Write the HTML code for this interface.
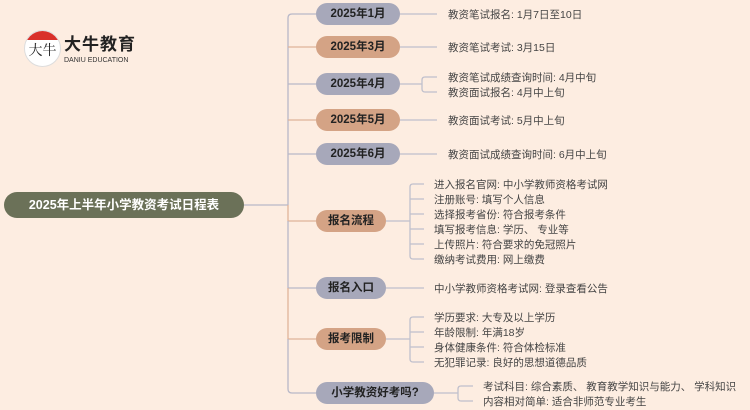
<!DOCTYPE html>
<html><head><meta charset="utf-8"><style>
body{margin:0;width:750px;height:410px;background:#fdede1;position:relative;overflow:hidden;font-family:"Liberation Sans","Noto Sans CJK SC",sans-serif}
.p{position:absolute;height:22px;line-height:22px;border-radius:11px;text-align:center;font-weight:bold;font-size:11.5px;color:#222}
.g{background:#a7a8ba}.t{background:#d4a385}
.l{position:absolute;font-size:10.5px;color:#444;line-height:12px;white-space:nowrap}
svg{position:absolute;left:0;top:0}
</style></head><body>
<svg width="750" height="410" fill="none" stroke-width="1.3">
<path d="M244 205H288" stroke="#b8b8c8"/>
<path d="M316 14H292Q288 14 288 18V205" stroke="#b8b8c8"/>
<path d="M288 47H316" stroke="#e0b49a"/>
<path d="M288 84H316" stroke="#b8b8c8"/>
<path d="M288 120H316" stroke="#e0b49a"/>
<path d="M288 154H316" stroke="#b8b8c8"/>
<path d="M288 205V221H316" stroke="#e0b49a"/>
<path d="M288 221V288H316" stroke="#b8b8c8"/>
<path d="M288 288V339H316" stroke="#e0b49a"/>
<path d="M288 339V389Q288 393 292 393H316" stroke="#b8b8c8"/>
<g stroke="#c0c0cc">
<path d="M400 14H437M400 47H437M400 120H437M400 154H437"/>
<path d="M400 84H422M437 77H425Q422 77 422 80V89Q422 92 425 92H437"/>
<path d="M386 221H410M424 184H413Q410 184 410 187V256Q410 259 413 259H424M410 199H424M410 214H424M410 229H424M410 244H424"/>
<path d="M386 288H424"/>
<path d="M386 339H410M424 317H413Q410 317 410 320V359Q410 362 413 362H424M410 332H424M410 347H424"/>
<path d="M434 393H458M473 386H461Q458 386 458 389V398Q458 401 461 401H473"/>
</g>
</svg>
<div style="position:absolute;left:24px;top:30px;width:35px;height:35px;border-radius:50%;background:#fff;border:1px solid #ddd;overflow:hidden"><div style="height:9px;background:#d9302a"></div><div style="font-size:14px;color:#222;text-align:center;line-height:20px;font-family:'Noto Serif CJK SC',serif">大牛</div></div>
<div style="position:absolute;left:64px;top:35px;font-size:17px;line-height:20px;font-weight:bold;color:#222;letter-spacing:1px">大牛教育</div>
<div style="position:absolute;left:64px;top:57px;font-size:7px;line-height:8px;color:#333">DANIU EDUCATION</div>
<div class="p" style="left:4px;top:192px;width:240px;height:26px;line-height:26px;border-radius:13px;background:#6b7158;color:#fff;font-size:12.5px">2025年上半年小学教资考试日程表</div>
<div class="p g" style="left:316px;top:3px;width:84px">2025年1月</div>
<div class="p t" style="left:316px;top:36px;width:84px">2025年3月</div>
<div class="p g" style="left:316px;top:73px;width:84px">2025年4月</div>
<div class="p t" style="left:316px;top:109px;width:84px">2025年5月</div>
<div class="p g" style="left:316px;top:143px;width:84px">2025年6月</div>
<div class="p t" style="left:316px;top:210px;width:70px">报名流程</div>
<div class="p g" style="left:316px;top:277px;width:70px">报名入口</div>
<div class="p t" style="left:316px;top:328px;width:70px">报考限制</div>
<div class="p g" style="left:316px;top:382px;width:118px">小学教资好考吗?</div>
<div class="l" style="left:448px;top:9px">教资笔试报名: 1月7日至10日</div>
<div class="l" style="left:448px;top:42px">教资笔试考试: 3月15日</div>
<div class="l" style="left:448px;top:72px">教资笔试成绩查询时间: 4月中旬</div>
<div class="l" style="left:448px;top:87px">教资面试报名: 4月中上旬</div>
<div class="l" style="left:448px;top:115px">教资面试考试: 5月中上旬</div>
<div class="l" style="left:448px;top:149px">教资面试成绩查询时间: 6月中上旬</div>
<div class="l" style="left:434px;top:179px">进入报名官网: 中小学教师资格考试网</div>
<div class="l" style="left:434px;top:194px">注册账号: 填写个人信息</div>
<div class="l" style="left:434px;top:209px">选择报考省份: 符合报考条件</div>
<div class="l" style="left:434px;top:224px">填写报考信息: 学历、 专业等</div>
<div class="l" style="left:434px;top:239px">上传照片: 符合要求的免冠照片</div>
<div class="l" style="left:434px;top:254px">缴纳考试费用: 网上缴费</div>
<div class="l" style="left:434px;top:283px">中小学教师资格考试网: 登录查看公告</div>
<div class="l" style="left:434px;top:312px">学历要求: 大专及以上学历</div>
<div class="l" style="left:434px;top:327px">年龄限制: 年满18岁</div>
<div class="l" style="left:434px;top:342px">身体健康条件: 符合体检标准</div>
<div class="l" style="left:434px;top:357px">无犯罪记录: 良好的思想道德品质</div>
<div class="l" style="left:483px;top:381px">考试科目: 综合素质、 教育教学知识与能力、 学科知识</div>
<div class="l" style="left:483px;top:396px">内容相对简单: 适合非师范专业考生</div>
</body></html>
